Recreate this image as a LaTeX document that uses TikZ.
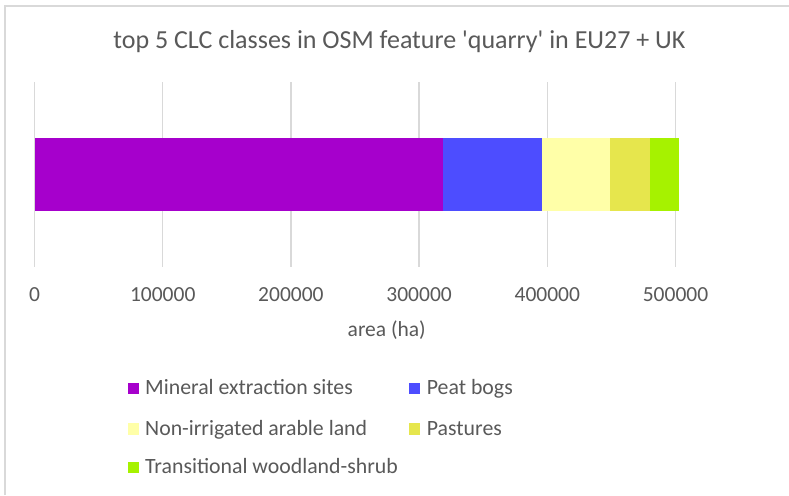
\documentclass[tikz,border=0pt]{standalone}
\usepackage{fontspec}
\setmainfont{Carlito}
\definecolor{framegray}{HTML}{D9D9D9}
\definecolor{gridgray}{HTML}{D9D9D9}
\definecolor{txtgray}{HTML}{595959}
\definecolor{cmineral}{HTML}{A600CC}
\definecolor{cpeat}{HTML}{4D4DFF}
\definecolor{carable}{HTML}{FFFFA8}
\definecolor{cpasture}{HTML}{E6E64D}
\definecolor{cshrub}{HTML}{A6F200}
\tikzset{
  lbl/.style={inner sep=0pt, anchor=base, text=txtgray, font=\fontsize{21.5}{25}\selectfont},
  ttl/.style={inner sep=0pt, anchor=base, text=txtgray, font=\fontsize{26}{30}\selectfont},
  legtxt/.style={inner sep=0pt, anchor=base west, text=txtgray, font=\fontsize{21.8}{25}\selectfont},
  gridln/.style={draw=gridgray, line width=1.5pt},
  legmark/.style={minimum size=11.6pt, inner sep=0pt, draw=none}
}
\begin{document}
\begin{tikzpicture}[x=1pt,y=-1pt]
\useasboundingbox (0,0) rectangle (789,495);
\fill[white] (0,0) rectangle (789,495);
% frame
\draw[framegray, line width=2pt] (5,495) -- (5,6) -- (789,6);
% title
\node[ttl] (title) at (399.4,48.3) {top 5 CLC classes in OSM feature \textquotesingle quarry\textquotesingle{} in EU27 + UK};
% gridlines and tick labels
\foreach \i/\t in {0/0,1/100000,2/200000,3/300000,4/400000,5/500000}{
  \draw[gridln] ({34.5+128.2*\i},82) -- ({34.5+128.2*\i},267);
  \node[lbl] (tick\i) at ({34.5+128.2*\i},301.5) {\t};
}
% bar segments
\fill[cmineral] (34.5,138.3) rectangle (443.3,210.7);
\fill[cpeat] (443.3,138.3) rectangle (541.9,210.7);
\fill[carable] (541.9,138.3) rectangle (610,210.7);
\fill[cpasture] (610,138.3) rectangle (650,210.7);
\fill[cshrub] (650,138.3) rectangle (679.3,210.7);
% axis title
\node[lbl] (axtitle) at (386.7,336) {area (ha)};
% legend
\node[legmark, fill=cmineral] (m1) at (133.5,388.5) {};
\node[legtxt] (t1) at (145,394.3) {Mineral extraction sites};
\node[legmark, fill=cpeat] (m2) at (414.5,388.5) {};
\node[legtxt] (t2) at (426.7,394.3) {Peat bogs};
\node[legmark, fill=carable] (m3) at (133.5,429.2) {};
\node[legtxt] (t3) at (145,435) {Non-irrigated arable land};
\node[legmark, fill=cpasture] (m4) at (414.5,429.2) {};
\node[legtxt] (t4) at (426.7,435) {Pastures};
\node[legmark, fill=cshrub] (m5) at (133.5,467.5) {};
\node[legtxt] (t5) at (145,473.3) {Transitional woodland-shrub};
\end{tikzpicture}
\end{document}
